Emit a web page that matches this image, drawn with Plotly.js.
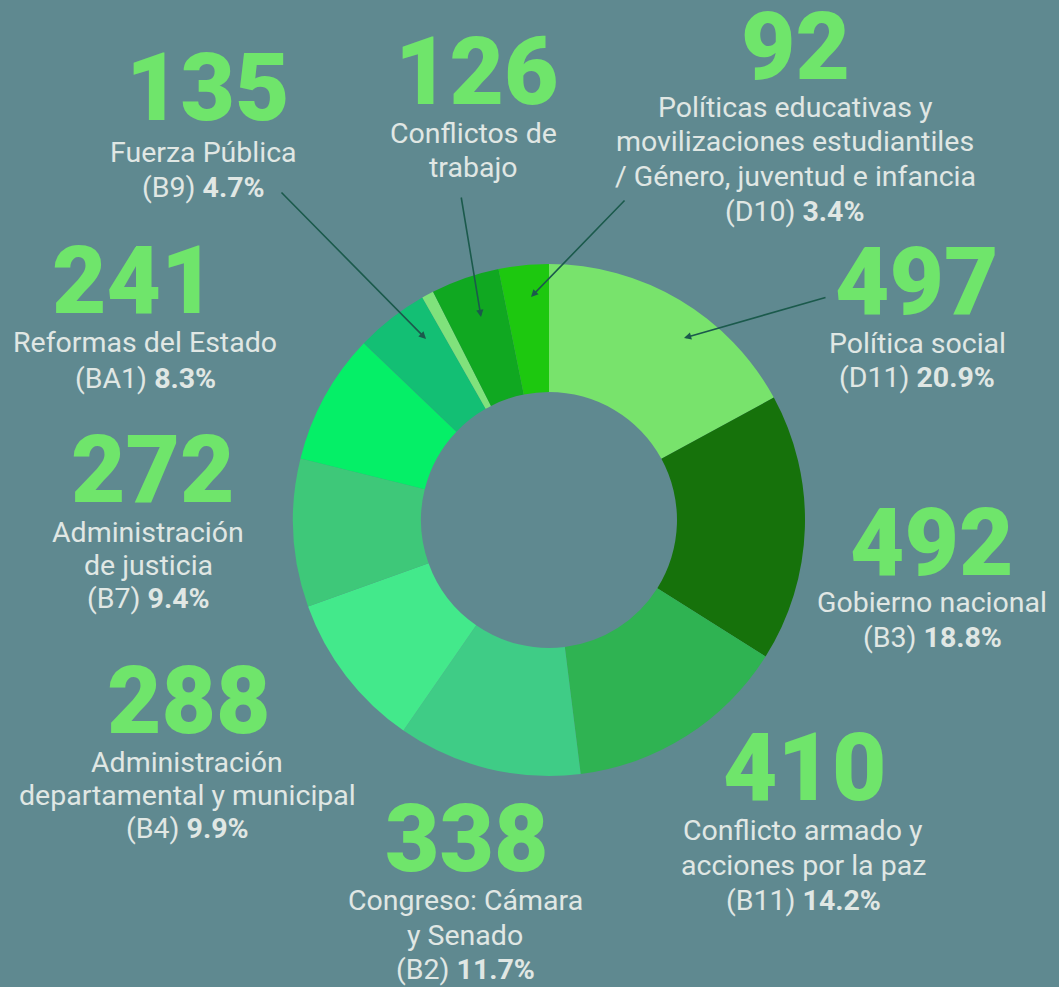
<!DOCTYPE html>
<html>
<head>
<meta charset="utf-8">
<script src="https://cdn.plot.ly/plotly-3.0.1.min.js"></script>
<style>
  html, body { margin: 0; padding: 0; background: #5f8990; }
  #chart { width: 1059px; height: 987px; }
</style>
</head>
<body>
<div id="chart"></div>
<script>
// ---- data ----
const categories = [
  'Política social',
  'Gobierno nacional',
  'Conflicto armado y acciones por la paz',
  'Congreso: Cámara y Senado',
  'Administración departamental y municipal',
  'Administración de justicia',
  'Reformas del Estado',
  'Fuerza Pública',
  'Otros',
  'Conflictos de trabajo',
  'Políticas educativas y movilizaciones estudiantiles / Género, juventud e infancia'
];
const values = [497, 492, 410, 338, 288, 272, 241, 135, 22, 126, 92];
const codes = ['D11', 'B3', 'B11', 'B2', 'B4', 'B7', 'BA1', 'B9', '', '', 'D10'];
const percents = ['20.9%', '18.8%', '14.2%', '11.7%', '9.9%', '9.4%', '8.3%', '4.7%', '', '', '3.4%'];
const labelLines = [
  ['Política social'],
  ['Gobierno nacional'],
  ['Conflicto armado y', 'acciones por la paz'],
  ['Congreso: Cámara', 'y Senado'],
  ['Administración', 'departamental y municipal'],
  ['Administración', 'de justicia'],
  ['Reformas del Estado'],
  ['Fuerza Pública'],
  [],
  ['Conflictos de', 'trabajo'],
  ['Políticas educativas y', 'movilizaciones estudiantiles', '/ Género, juventud e infancia']
];
const sliceColors = ['#78e36c', '#16720b', '#2fb352', '#3fcc86', '#43e98b', '#3ec879',
                     '#05ef67', '#13bf74', '#80e27c', '#10a821', '#1dc80f'];

// ---- layout positions (pixels) ----
const W = 1059, H = 987;
const cx = 549, cy = 520, R = 256;
// [number centre x, number centre y, label centre x, baselines of label lines]
const pos = [
  [916, 282, 917, [353, 387]],
  [931, 543, 932, [612, 647]],
  [804, 768, 803, [840, 875, 910]],
  [466, 839, 465, [910, 945, 979]],
  [189, 701, 187, [772, 805, 838]],
  [152, 470, 148, [542, 575, 608]],
  [133, 281, 145, [352, 388]],
  [207, 88, 204, [162, 197]],
  null,
  [476, 72, 473, [143, 177]],
  [795, 47, 795, [117, 151, 186, 221]]
];
// arrows: [tailX, tailY, headX, headY]
const arrows = [
  [827, 297, 684, 338],
  null, null, null, null, null, null,
  [280, 191, 426, 339],
  null,
  [461, 196, 481, 317],
  [626, 199, 531, 297]
];

const px = x => x / W;
const py = y => 1 - y / H;
const NUM = 94, LAB = 28.5;
const annotations = [];
categories.forEach((c, i) => {
  const p = pos[i];
  if (!p) return;
  annotations.push({
    xref: 'paper', yref: 'paper', x: px(p[0]), y: py(p[1]),
    xanchor: 'center', yanchor: 'middle', showarrow: false,
    text: String(values[i]),
    font: { family: 'Roboto, sans-serif', size: NUM, color: '#6fe56b', weight: 900 }
  });
  const lines = labelLines[i].slice();
  if (codes[i]) lines.push('(' + codes[i] + ') <b>' + percents[i] + '</b>');
  lines.forEach((ln, k) => {
    const base = p[3][k];
    annotations.push({
      xref: 'paper', yref: 'paper', x: px(p[2]), y: py(base - 0.341 * LAB),
      xanchor: 'center', yanchor: 'middle', showarrow: false, align: 'center',
      text: ln,
      font: { family: 'Roboto, sans-serif', size: LAB, color: '#e0e7e4' }
    });
  });
  const a = arrows[i];
  if (a) {
    annotations.push({
      xref: 'paper', yref: 'paper', x: px(a[2]), y: py(a[3]),
      ax: a[0] - a[2], ay: a[1] - a[3], axref: 'pixel', ayref: 'pixel',
      text: '', showarrow: true, arrowhead: 2, arrowsize: 0.9, arrowwidth: 1.6,
      arrowcolor: '#1b5a4c', standoff: 0
    });
  }
});

const trace = {
  type: 'pie',
  labels: categories,
  values: values,
  sort: false,
  direction: 'clockwise',
  rotation: 0,
  hole: 0.5,
  textinfo: 'none',
  hoverinfo: 'label+value',
  marker: { colors: sliceColors, line: { width: 0 } },
  domain: { x: [px(cx - R), px(cx + R)], y: [1 - (cy + R) / H, 1 - (cy - R) / H] },
  showlegend: false
};

const layout = {
  width: W, height: H,
  margin: { l: 0, r: 0, t: 0, b: 0 },
  paper_bgcolor: '#5f8990',
  plot_bgcolor: '#5f8990',
  showlegend: false,
  annotations: annotations
};

Plotly.newPlot('chart', [trace], layout, { displayModeBar: false, staticPlot: true });
</script>
</body>
</html>
